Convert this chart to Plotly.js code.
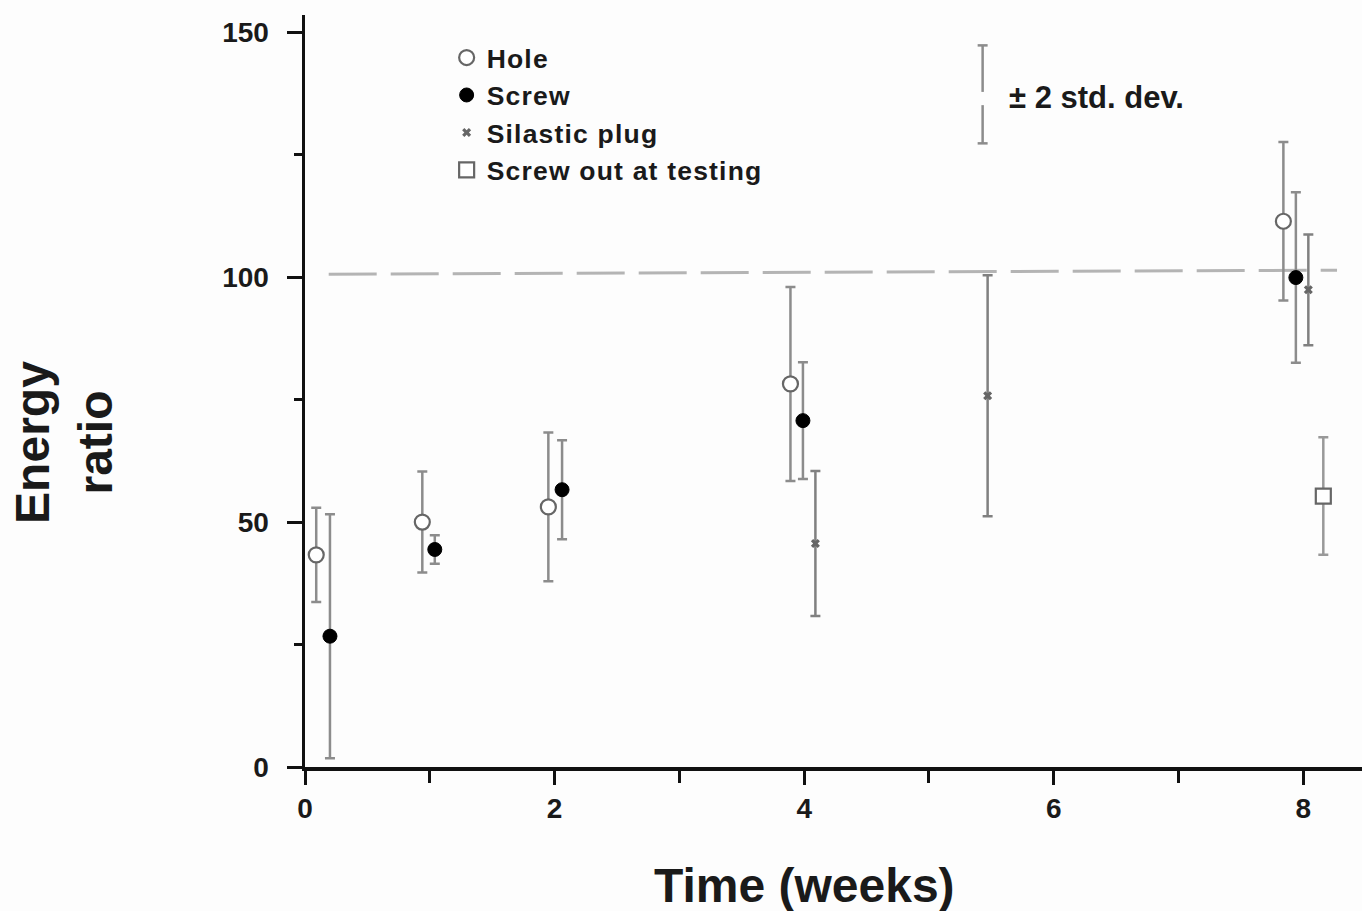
<!DOCTYPE html>
<html>
<head>
<meta charset="utf-8">
<script src="https://cdn.plot.ly/plotly-3.0.1.min.js"></script>
<style>
html,body{margin:0;padding:0;background:#fdfdfd;}
#chart{width:1362px;height:911px;}
#chart .legendtext{letter-spacing:1.2px;}
#chart .legend .scrollbox{clip-path:none !important;}
</style>
</head>
<body>
<div id="chart"></div>
<script>
// ---- data ----
var holeX = [0.09, 0.94, 1.95, 3.89, 7.84];
var holeY = [43.3, 50.0, 53.1, 78.2, 111.4];
var holeErr = [9.6, 10.3, 15.2, 19.8, 16.2];

var screwX = [0.20, 1.04, 2.06, 3.99, 7.94];
var screwY = [26.7, 44.4, 56.6, 70.7, 99.9];
var screwErr = [24.9, 2.9, 10.1, 11.9, 17.4];

var plugX = [4.09, 5.47, 8.04];
var plugY = [45.6, 75.8, 97.4];
var plugErr = [14.8, 24.6, 11.3];

var outX = [8.16];
var outY = [55.3];
var outErr = [12.0];

var refX = [0.19, 8.27];
var refY = [100.6, 101.4];

var xTickVals = [0, 2, 4, 6, 8];
var yTickVals = [0, 50, 100, 150];

var FONT = 'Liberation Sans, Arial, Helvetica, sans-serif';

function errBar(arr, color) {
  return {type: 'data', array: arr, visible: true, color: color, thickness: 2.5, width: 5};
}

var traces = [
  {
    x: refX, y: refY, mode: 'lines', showlegend: false, hoverinfo: 'skip',
    line: {color: '#b4b4b4', width: 3, dash: '48px,14px'}
  },
  {
    name: 'Hole', x: holeX, y: holeY, mode: 'markers',
    error_y: errBar(holeErr, '#8c8c8c'),
    marker: {symbol: 'circle', size: 15, color: '#ffffff', line: {color: '#666666', width: 2.2}}
  },
  {
    name: 'Screw', x: screwX, y: screwY, mode: 'markers',
    error_y: errBar(screwErr, '#8c8c8c'),
    marker: {symbol: 'circle', size: 14, color: '#000000', line: {color: '#000000', width: 1}}
  },
  {
    name: 'Silastic plug', x: plugX, y: plugY, mode: 'markers',
    error_y: errBar(plugErr, '#808080'),
    marker: {symbol: 'x', size: 8, color: '#666666', line: {width: 0}}
  },
  {
    name: 'Screw out at testing', x: outX, y: outY, mode: 'markers',
    error_y: errBar(outErr, '#999999'),
    marker: {symbol: 'square', size: 15, color: '#ffffff', line: {color: '#666666', width: 2.2}}
  }
];

// key for the "± 2 std. dev." legend
var keyX = 5.43, keyTop = 147.3, keyBot = 127.3, gapTop = 137.8, gapBot = 135.1, capHalf = 0.04;
var keyLine = {color: '#8c8c8c', width: 2.5};
var shapes = [
  {type: 'line', xref: 'x', yref: 'y', x0: keyX, x1: keyX, y0: gapTop, y1: keyTop, line: keyLine},
  {type: 'line', xref: 'x', yref: 'y', x0: keyX, x1: keyX, y0: keyBot, y1: gapBot, line: keyLine},
  {type: 'line', xref: 'x', yref: 'y', x0: keyX - capHalf, x1: keyX + capHalf, y0: keyTop, y1: keyTop, line: keyLine},
  {type: 'line', xref: 'x', yref: 'y', x0: keyX - capHalf, x1: keyX + capHalf, y0: keyBot, y1: keyBot, line: keyLine}
];

var layout = {
  width: 1362, height: 911,
  margin: {l: 305, r: 0, t: 15, b: 144},
  paper_bgcolor: '#fdfdfd', plot_bgcolor: '#fdfdfd',
  font: {family: FONT, color: '#1a1a1a', weight: 'bold'},
  showlegend: true,
  legend: {
    x: 0.134, y: 0.975, xanchor: 'left', yanchor: 'top',
    font: {family: FONT, size: 26.5, color: '#1a1a1a', weight: 'bold'},
    bgcolor: 'rgba(0,0,0,0)', borderwidth: 0, tracegroupgap: 0
  },
  xaxis: {
    range: [0, 8.47], showgrid: false, zeroline: false,
    showline: true, linecolor: '#111', linewidth: 3.5, mirror: false,
    ticks: 'outside', ticklen: 14, tickwidth: 3, tickcolor: '#111',
    tickvals: xTickVals, ticktext: xTickVals.map(String),
    tickfont: {family: FONT, size: 28, color: '#1a1a1a', weight: 'bold'},
    minor: {dtick: 1, tick0: 0, ticks: 'outside', ticklen: 12, tickwidth: 3, tickcolor: '#111', showgrid: false}
  },
  yaxis: {
    range: [0, 153.5], showgrid: false, zeroline: false,
    showline: true, linecolor: '#111', linewidth: 3.5,
    ticks: 'outside', ticklen: 15, tickwidth: 3, tickcolor: '#111',
    ticklabelstandoff: 12,
    tickvals: yTickVals, ticktext: yTickVals.map(String),
    tickfont: {family: FONT, size: 28, color: '#1a1a1a', weight: 'bold'},
    minor: {dtick: 25, tick0: 0, ticks: 'outside', ticklen: 8, tickwidth: 3, tickcolor: '#111', showgrid: false}
  },
  shapes: shapes,
  annotations: [
    {
      text: 'Time (weeks)', xref: 'paper', yref: 'paper', x: 0.473, y: -0.157,
      xanchor: 'center', yanchor: 'middle', showarrow: false,
      font: {family: FONT, size: 48, color: '#1a1a1a', weight: 'bold'}
    },
    {
      text: 'Energy<br>ratio', xref: 'paper', yref: 'paper', x: -0.228, y: 0.431,
      xanchor: 'center', yanchor: 'middle', showarrow: false, textangle: -90,
      font: {family: FONT, size: 48, color: '#1a1a1a', weight: 'bold'}
    },
    {
      text: '± 2 std. dev.', xref: 'x', yref: 'y', x: 5.627, y: 136.7,
      xanchor: 'left', yanchor: 'middle', showarrow: false,
      font: {family: FONT, size: 31, color: '#1a1a1a', weight: 'bold'}
    }
  ]
};

Plotly.newPlot('chart', traces, layout, {displayModeBar: false, staticPlot: true});
</script>
</body>
</html>
